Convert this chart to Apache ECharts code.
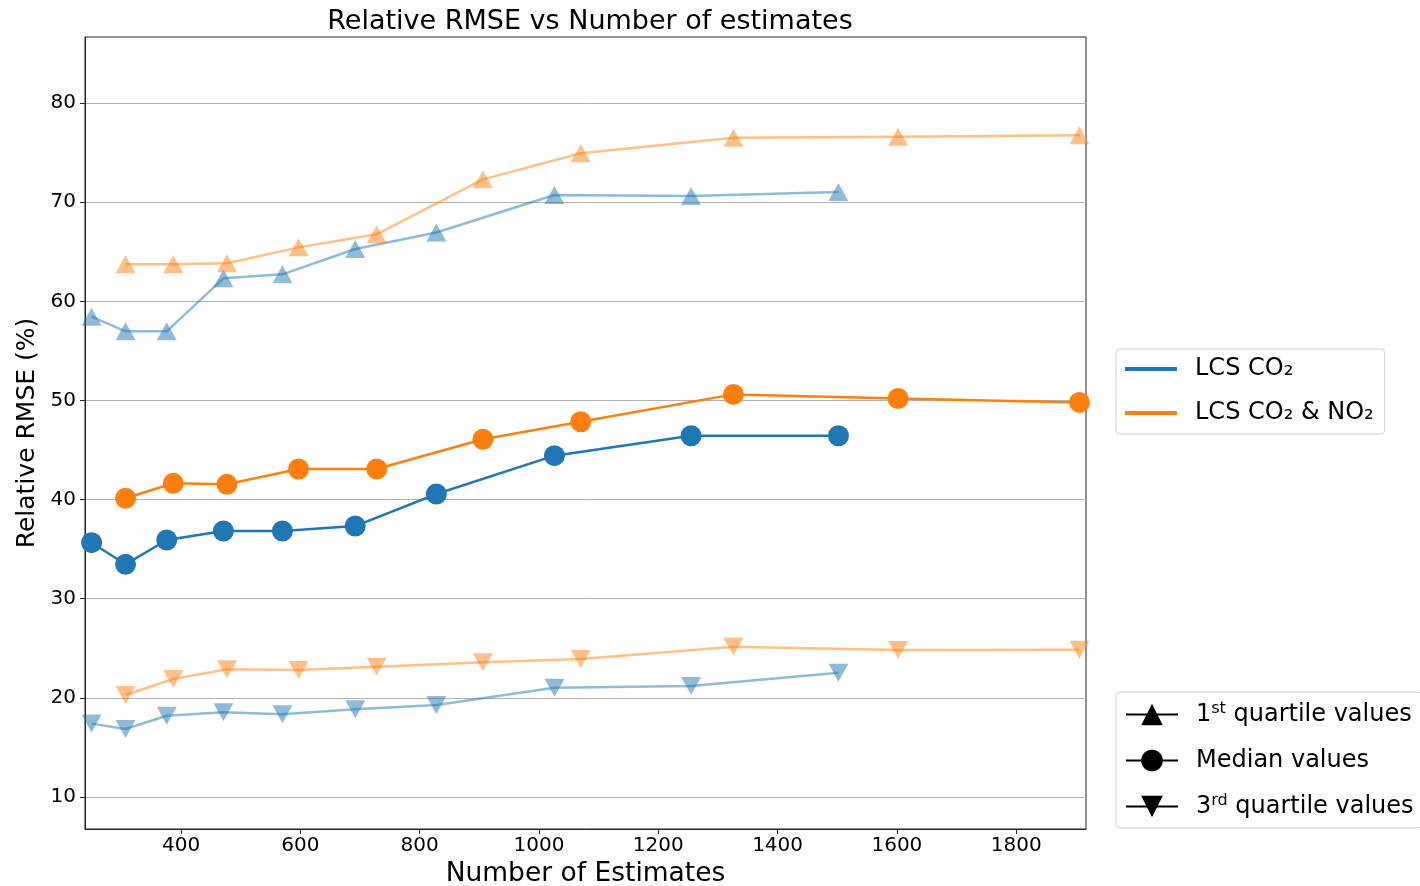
<!DOCTYPE html>
<html>
<head>
<meta charset="utf-8">
<title>Relative RMSE vs Number of estimates</title>
<script src="https://cdn.jsdelivr.net/npm/echarts@6/dist/echarts.min.js"></script>
<style>
  html, body { margin: 0; padding: 0; background: #ffffff; }
  #chart { width: 1420px; height: 886px; }
</style>
</head>
<body>
<div id="chart"></div>
<script>
// Number of estimates for each configuration
const estimatesCO2 = [250, 307, 376, 471, 570, 692, 828, 1026, 1255, 1502];
const estimatesCO2NO2 = [307, 387, 477, 597, 728, 906, 1070, 1326, 1602, 1906];

// Relative RMSE (%) — LCS CO2
const co2Q1 = [58.45, 56.97, 56.97, 62.32, 62.72, 65.27, 66.94, 70.72, 70.62, 71.02];
const co2Median = [35.65, 33.47, 35.92, 36.83, 36.83, 37.33, 40.56, 44.43, 46.44, 46.44];
const co2Q3 = [17.4, 16.86, 18.2, 18.54, 18.34, 18.84, 19.28, 21.02, 21.19, 22.54];

// Relative RMSE (%) — LCS CO2 & NO2
const no2Q1 = [63.73, 63.73, 63.83, 65.44, 66.76, 72.3, 74.93, 76.5, 76.6, 76.74];
const no2Median = [40.13, 41.64, 41.54, 43.08, 43.08, 46.08, 47.85, 50.61, 50.2, 49.8];
const no2Q3 = [20.29, 21.9, 22.88, 22.81, 23.14, 23.58, 23.92, 25.16, 24.83, 24.86];

// Axis ticks
const xTicks = [400, 600, 800, 1000, 1200, 1400, 1600, 1800];
const yTicks = [10, 20, 30, 40, 50, 60, 70, 80];

const BLUE = '#1f77b4';
const ORANGE = '#ff7f0e';
const FONT = 'DejaVu Sans';

const zip = (xs, ys) => xs.map((x, i) => [x, ys[i]]);

function quartileSeries(name, xs, ys, color, down) {
  return {
    name: name,
    type: 'line',
    data: zip(xs, ys),
    symbol: 'triangle',
    symbolSize: [20, 18],
    symbolRotate: down ? 180 : 0,
    lineStyle: { color: color, width: 2.5, opacity: 0.5 },
    itemStyle: { color: color, opacity: 0.5 },
    emphasis: { disabled: true },
    z: 2
  };
}

function medianSeries(name, xs, ys, color) {
  return {
    name: name,
    type: 'line',
    data: zip(xs, ys),
    symbol: 'circle',
    symbolSize: 21,
    lineStyle: { color: color, width: 2.5 },
    itemStyle: { color: color },
    emphasis: { disabled: true },
    z: 3
  };
}

// Entries that exist only to populate the two legends
function legendOnly(name, color, symbol, rotate, width) {
  return {
    name: name,
    type: 'line',
    data: [],
    symbol: symbol,
    symbolRotate: rotate,
    lineStyle: { color: color, width: width },
    itemStyle: { color: color }
  };
}

const legendRich = {
  '1st quartile values': '1{sup|st} quartile values',
  'Median values': 'Median values',
  '3rd quartile values': '3{sup|rd} quartile values'
};

const chart = echarts.init(document.getElementById('chart'), null, { renderer: 'canvas' });

chart.setOption({
  animation: false,
  backgroundColor: '#ffffff',
  textStyle: { fontFamily: FONT },
  title: {
    text: 'Relative RMSE vs Number of estimates',
    left: 585,
    top: 3,
    textAlign: 'center',
    textStyle: { fontFamily: FONT, fontSize: 27, fontWeight: 'normal', color: '#000' }
  },
  grid: {
    left: 85, right: 334, top: 37, bottom: 57,
    outerBoundsMode: 'none',
    containLabel: false,
    show: true, borderColor: '#222', borderWidth: 1, backgroundColor: 'transparent'
  },
  legend: [
    {
      data: ['LCS CO₂', 'LCS CO₂ & NO₂'],
      orient: 'vertical',
      left: 1116, top: 349,
      icon: 'rect',
      itemWidth: 52, itemHeight: 4,
      itemGap: 18,
      padding: [7, 11, 8, 9],
      backgroundColor: '#fff',
      borderColor: '#d0d0d0', borderWidth: 1, borderRadius: 4,
      selectedMode: false,
      textStyle: { fontFamily: FONT, fontSize: 24, color: '#000', padding: [0, 0, 0, 13], lineHeight: 26 }
    },
    {
      data: ['1st quartile values', 'Median values', '3rd quartile values'],
      orient: 'vertical',
      left: 1116, top: 692,
      itemWidth: 52, itemHeight: 27,
      itemGap: 19,
      padding: [9, 8, 8, 9],
      backgroundColor: '#fff',
      borderColor: '#d0d0d0', borderWidth: 1, borderRadius: 4,
      selectedMode: false,
      formatter: (name) => legendRich[name],
      textStyle: {
        fontFamily: FONT, fontSize: 24, color: '#000', padding: [0, 0, 0, 13], lineHeight: 27,
        rich: {
          sup: { fontFamily: FONT, fontSize: 16, color: '#000', verticalAlign: 'top', lineHeight: 27, padding: [0, 0, 10, 0] }
        }
      }
    }
  ],
  xAxis: {
    type: 'value',
    min: 239, max: 1917,
    name: 'Number of Estimates',
    nameLocation: 'middle',
    nameGap: 32,
    nameTextStyle: { fontFamily: FONT, fontSize: 26.5, color: '#000' },
    axisLine: { show: true, onZero: false, lineStyle: { color: '#222', width: 1 } },
    axisTick: { show: true, inside: false, length: 5, customValues: xTicks, lineStyle: { color: '#222' } },
    axisLabel: { customValues: xTicks, formatter: (v) => String(v), fontFamily: FONT, fontSize: 20, color: '#000', margin: 7 },
    splitLine: { show: false }
  },
  yAxis: {
    type: 'value',
    min: 6.77, max: 86.66,
    name: 'Relative RMSE (%)',
    nameLocation: 'middle',
    nameGap: 45,
    nameRotate: 90,
    nameTextStyle: { fontFamily: FONT, fontSize: 25, color: '#000' },
    axisLine: { show: true, onZero: false, lineStyle: { color: '#222', width: 1 } },
    axisTick: { show: true, inside: false, length: 5, customValues: yTicks, lineStyle: { color: '#222' } },
    axisLabel: { customValues: yTicks, formatter: (v) => String(v), fontFamily: FONT, fontSize: 20, color: '#000', margin: 9 },
    splitLine: { show: true, lineStyle: { color: '#b0b0b0', width: 1 } }
  },
  series: [
    quartileSeries('LCS CO₂ 1st quartile', estimatesCO2, co2Q1, BLUE, false),
    medianSeries('LCS CO₂ median', estimatesCO2, co2Median, BLUE),
    quartileSeries('LCS CO₂ 3rd quartile', estimatesCO2, co2Q3, BLUE, true),
    quartileSeries('LCS CO₂ & NO₂ 1st quartile', estimatesCO2NO2, no2Q1, ORANGE, false),
    medianSeries('LCS CO₂ & NO₂ median', estimatesCO2NO2, no2Median, ORANGE),
    quartileSeries('LCS CO₂ & NO₂ 3rd quartile', estimatesCO2NO2, no2Q3, ORANGE, true),
    legendOnly('LCS CO₂', BLUE, 'none', 0, 4),
    legendOnly('LCS CO₂ & NO₂', ORANGE, 'none', 0, 4),
    legendOnly('1st quartile values', '#000', 'triangle', 0, 2),
    legendOnly('Median values', '#000', 'circle', 0, 2),
    legendOnly('3rd quartile values', '#000', 'triangle', 180, 2)
  ]
});
</script>
</body>
</html>
